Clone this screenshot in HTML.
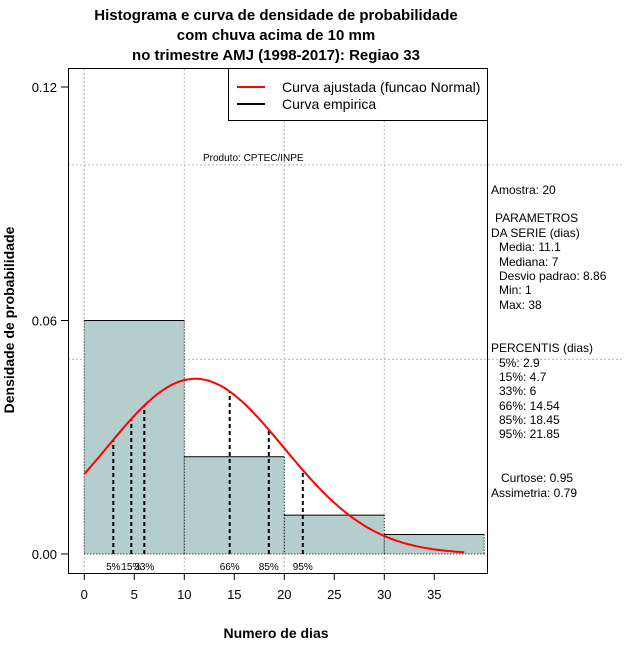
<!DOCTYPE html>
<html><head><meta charset="utf-8"><style>
body{margin:0;background:#fff;}
svg{display:block;font-family:"Liberation Sans",sans-serif;}
</style></head><body>
<svg id="c" width="640" height="660" xmlns="http://www.w3.org/2000/svg">
<g font-weight="bold" font-size="15" text-anchor="middle">
<text x="276" y="20">Histograma e curva de densidade de probabilidade</text>
<text x="276" y="40">com chuva acima de 10 mm</text>
<text x="276" y="60">no trimestre AMJ (1998-2017): Regiao 33</text>
</g>
<g id="grid"></g>
<g id="bars"></g>
<g id="pct"></g>
<path id="curve" fill="none" stroke="#f00" stroke-width="2"/>
<rect x="68.5" y="68.5" width="419" height="505" fill="none" stroke="#000"/>
<g id="axes" font-size="13"></g>
<text x="276" y="638" font-size="14" font-weight="bold" text-anchor="middle">Numero de dias</text>
<text transform="translate(14,320) rotate(-90)" font-size="14" font-weight="bold" text-anchor="middle">Densidade de probabilidade</text>
<g>
<rect x="228.5" y="68.5" width="259" height="52" fill="#fff" stroke="#000"/>
<line x1="237" y1="87" x2="265" y2="87" stroke="#f00" stroke-width="2"/>
<line x1="237" y1="104" x2="265" y2="104" stroke="#000" stroke-width="2"/>
<text x="282" y="92" font-size="14">Curva ajustada (funcao Normal)</text>
<text x="282" y="109" font-size="14">Curva empirica</text>
</g>
<text x="203" y="161" font-size="10">Produto: CPTEC/INPE</text>
<g font-size="12">
<text x="491" y="194">Amostra: 20</text>
<text x="495" y="222">PARAMETROS</text>
<text x="491" y="237">DA SERIE (dias)</text>
<text x="499" y="251">Media: 11.1</text>
<text x="499" y="266">Mediana: 7</text>
<text x="499" y="280">Desvio padrao: 8.86</text>
<text x="499" y="294">Min: 1</text>
<text x="499" y="309">Max: 38</text>
<text x="491" y="352">PERCENTIS (dias)</text>
<text x="499" y="367">5%: 2.9</text>
<text x="499" y="381">15%: 4.7</text>
<text x="499" y="395">33%: 6</text>
<text x="499" y="410">66%: 14.54</text>
<text x="499" y="424">85%: 18.45</text>
<text x="499" y="438">95%: 21.85</text>
<text x="501" y="482">Curtose: 0.95</text>
<text x="491" y="497">Assimetria: 0.79</text>
</g>
</svg>
<script>
const binEdges=[0,10,20,30,40];
const densities=[0.06,0.025,0.01,0.005];
const fitMean=11.1, fitSd=8.86, dataMin=0, dataMax=38;
const pctLabels=["5%","15%","33%","66%","85%","95%"];
const pctValues=[2.9,4.7,6,14.54,18.45,21.85];
const xTicks=[0,5,10,15,20,25,30,35];
const yTicks=[0,0.06,0.12];
const yGrid=[0.05,0.1];
const xGrid=[0,10,20,30];

const NS="http://www.w3.org/2000/svg";
const X=v=>84.3+v*10;
const Y=v=>554-v*3891.7;
function mk(tag,attrs,parent,txt){const e=document.createElementNS(NS,tag);for(const k in attrs)e.setAttribute(k,attrs[k]);if(txt!==undefined)e.textContent=txt;document.getElementById(parent).appendChild(e);return e;}
const dens=x=>Math.exp(-0.5*((x-fitMean)/fitSd)**2)/(fitSd*Math.sqrt(2*Math.PI));

yGrid.forEach(v=>{const e=mk('line',{x1:68,x2:622,y1:Y(v),y2:Y(v),stroke:'#bbb','stroke-dasharray':'2,2'},'grid');

});
xGrid.forEach(v=>{const e=mk('line',{x1:X(v),x2:X(v),y1:69,y2:573,stroke:'#bbb','stroke-dasharray':'2,2'},'grid');

});

densities.forEach((d,i)=>{const x0=X(binEdges[i]),x1=X(binEdges[i+1]);
const e=mk('rect',{x:x0,y:Y(d),width:x1-x0,height:Y(0)-Y(d),fill:'#b4cdcd'},'bars');


const t=mk('line',{x1:x0,x2:x1,y1:Y(d),y2:Y(d),stroke:'#000'},'bars');


[x0,x1].forEach(xx=>{const s=mk('line',{x1:xx,x2:xx,y1:Y(d),y2:Y(0),stroke:'#000','stroke-dasharray':'1,2'},'bars');

});});
const bl=mk('line',{x1:X(0),x2:X(40),y1:Y(0),y2:Y(0),stroke:'#000','stroke-dasharray':'1,2'},'bars');



pctValues.forEach((v,i)=>{const e=mk('line',{x1:X(v),x2:X(v),y1:Y(0),y2:Y(dens(v)),stroke:'#000','stroke-width':2,'stroke-dasharray':'4,3'},'pct');


const t=mk('text',{x:X(v),y:570,'font-size':10,'text-anchor':'middle'},'pct',pctLabels[i]);

});

let d='';for(let x=dataMin;x<=dataMax+1e-9;x+=0.25){d+=(d?'L':'M')+X(x).toFixed(1)+','+Y(dens(x)).toFixed(1);}
document.getElementById('curve').setAttribute('d',d);

xTicks.forEach(v=>{const l=mk('line',{x1:X(v),x2:X(v),y1:573,y2:580,stroke:'#000'},'axes');


const t=mk('text',{x:X(v),y:599,'text-anchor':'middle'},'axes',String(v));

});
yTicks.forEach(v=>{const l=mk('line',{x1:61,x2:68,y1:Y(v),y2:Y(v),stroke:'#000'},'axes');


const t=mk('text',{x:57,y:Y(v)+5,'text-anchor':'end'},'axes',v.toFixed(2));

});
</script>
</body></html>
